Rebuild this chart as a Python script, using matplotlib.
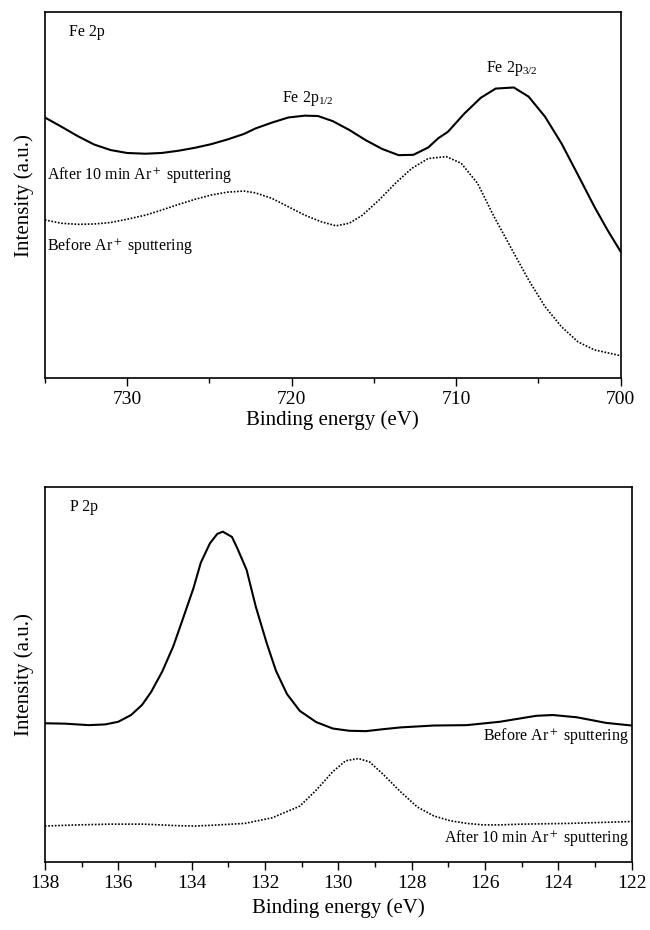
import numpy as np
import matplotlib
matplotlib.use('Agg')
import matplotlib.pyplot as plt
from matplotlib.ticker import MultipleLocator, NullLocator

plt.rcParams['font.family'] = ['Liberation Serif', 'DejaVu Serif']
plt.rcParams['mathtext.fontset'] = 'stix'

# Fe 2p, after 10 min Ar+ sputtering (solid)
fe_after_x = [735, 734.0, 733.0, 732.0, 731.0, 730.0, 728.9, 727.9, 726.9, 725.9,
              724.9, 723.9, 722.9, 722.2, 721.2, 720.2, 719.2, 718.4, 717.5, 716.5,
              715.5, 714.5, 713.5, 712.6, 711.7, 711.1, 710.5, 709.5, 708.5, 707.6,
              706.5, 705.6, 704.6, 703.6, 702.6, 701.6, 700.8, 700]
fe_after_y = [71.2, 68.7, 66.1, 63.8, 62.3, 61.5, 61.3, 61.5, 62.1, 62.9,
              63.9, 65.2, 66.7, 68.2, 69.8, 71.2, 71.7, 71.6, 70.2, 67.8,
              65.0, 62.6, 60.9, 61.0, 63.0, 65.5, 67.3, 72.3, 76.6, 79.1,
              79.4, 76.9, 71.4, 64.1, 55.5, 46.8, 40.4, 34.5]

# Fe 2p, before Ar+ sputtering (dotted)
fe_before_x = [735, 734.0, 733.0, 732.0, 731.0, 730.0, 728.9, 727.9, 726.9, 725.9,
               724.9, 723.9, 722.9, 722.2, 721.2, 720.2, 719.2, 718.2, 717.3, 716.5,
               715.7, 714.7, 713.7, 712.7, 711.7, 710.6, 709.7, 708.7, 707.7, 706.6,
               705.6, 704.6, 703.6, 702.6, 701.6, 700]
fe_before_y = [43.2, 42.3, 42.0, 42.1, 42.5, 43.4, 44.5, 45.9, 47.4, 48.8,
               50.0, 50.8, 51.1, 50.6, 49.1, 46.8, 44.5, 42.7, 41.6, 42.3,
               44.5, 48.6, 53.2, 57.3, 60.0, 60.5, 58.7, 53.2, 44.1, 35.0,
               26.8, 19.5, 14.0, 9.9, 7.7, 6.1]

# P 2p, before Ar+ sputtering (solid)
p_before_x = [138, 137.45, 136.8, 136.35, 136.0, 135.65, 135.35, 135.1, 134.8, 134.5,
              134.25, 133.95, 133.75, 133.5, 133.3, 133.15, 132.9, 132.75, 132.5, 132.25,
              131.95, 131.7, 131.4, 131.05, 130.6, 130.15, 129.7, 129.25, 128.8, 128.3,
              127.4, 126.5, 125.6, 124.6, 124.15, 123.5, 122.7, 122]
p_before_y = [37.0, 36.9, 36.5, 36.7, 37.4, 39.2, 41.9, 45.4, 50.8, 57.5,
              64.5, 73.0, 79.8, 85.0, 87.5, 88.1, 86.7, 83.6, 77.9, 68.1,
              58.3, 51.0, 44.8, 40.3, 37.3, 35.6, 35.0, 34.9, 35.4, 35.9,
              36.4, 36.5, 37.4, 39.0, 39.2, 38.6, 37.1, 36.4]

# P 2p, after 10 min Ar+ sputtering (dotted)
p_after_x = [138, 137.1, 136.2, 135.3, 134.4, 133.9, 133.45, 132.55, 131.8, 131.05,
             130.6, 130.15, 129.8, 129.45, 129.15, 128.8, 128.3, 127.85, 127.4, 126.95,
             126.5, 126.05, 125.6, 125.0, 123.7, 122]
p_after_y = [9.6, 9.9, 10.1, 10.1, 9.7, 9.6, 9.8, 10.3, 11.8, 14.9,
             19.2, 24.1, 27.0, 27.6, 26.7, 23.6, 18.7, 14.7, 12.3, 11.0,
             10.3, 9.9, 9.9, 10.1, 10.3, 10.8]

fig = plt.figure(figsize=(6.5, 9.3), dpi=100)
ax1 = fig.add_axes([0.069, 0.5935, 0.886, 0.3935])
ax2 = fig.add_axes([0.069, 0.0731, 0.903, 0.4032])

solid_kw = dict(color='black', linewidth=1.5)
dot_kw = dict(color='black', linewidth=1.2, linestyle=(0, (1, 1)))

ax1.plot(fe_after_x, fe_after_y, **solid_kw)
ax1.plot(fe_before_x, fe_before_y, **dot_kw)
ax1.set_xlim(735, 700)
ax1.set_ylim(0, 100)
ax1.xaxis.set_major_locator(MultipleLocator(10))
ax1.xaxis.set_minor_locator(MultipleLocator(5))

ax2.plot(p_before_x, p_before_y, **solid_kw)
ax2.plot(p_after_x, p_after_y, **dot_kw)
ax2.set_xlim(138, 122)
ax2.set_ylim(0, 100)
ax2.xaxis.set_major_locator(MultipleLocator(2))
ax2.xaxis.set_minor_locator(MultipleLocator(1))

for ax in (ax1, ax2):
    ax.yaxis.set_major_locator(NullLocator())
    ax.tick_params(axis='x', which='major', direction='out', length=6, width=1,
                   labelsize=14, pad=3)
    ax.tick_params(axis='x', which='minor', direction='out', length=3.5, width=1)
    for s in ax.spines.values():
        s.set_linewidth(1.2)
    ax.set_ylabel('Intensity (a.u.)', fontsize=15, labelpad=8)

ax1.set_xlabel('Binding energy (eV)', fontsize=15, labelpad=2)
ax2.set_xlabel('Binding energy (eV)', fontsize=15, labelpad=5)

txt = dict(fontsize=11.5)
ax1.text(0.042, 0.935, 'Fe 2p', transform=ax1.transAxes, **txt)
ax1.text(719.0, 75.5, r'Fe 2p$\mathregular{_{1/2}}$', ha='center', **txt)
ax1.text(706.6, 83.5, r'Fe 2p$\mathregular{_{3/2}}$', ha='center', **txt)
ax1.text(0.003, 0.555, r'After 10 min Ar$^+$ sputtering', transform=ax1.transAxes,
         va='center', **txt)
ax1.text(0.003, 0.36, r'Before Ar$^+$ sputtering', transform=ax1.transAxes,
         va='center', **txt)

ax2.text(0.042, 0.935, 'P 2p', transform=ax2.transAxes, **txt)
ax2.text(0.995, 0.335, r'Before Ar$^+$ sputtering', transform=ax2.transAxes,
         ha='right', va='center', **txt)
ax2.text(0.995, 0.065, r'After 10 min Ar$^+$ sputtering', transform=ax2.transAxes,
         ha='right', va='center', **txt)

fig.savefig('out.png', dpi=100)
